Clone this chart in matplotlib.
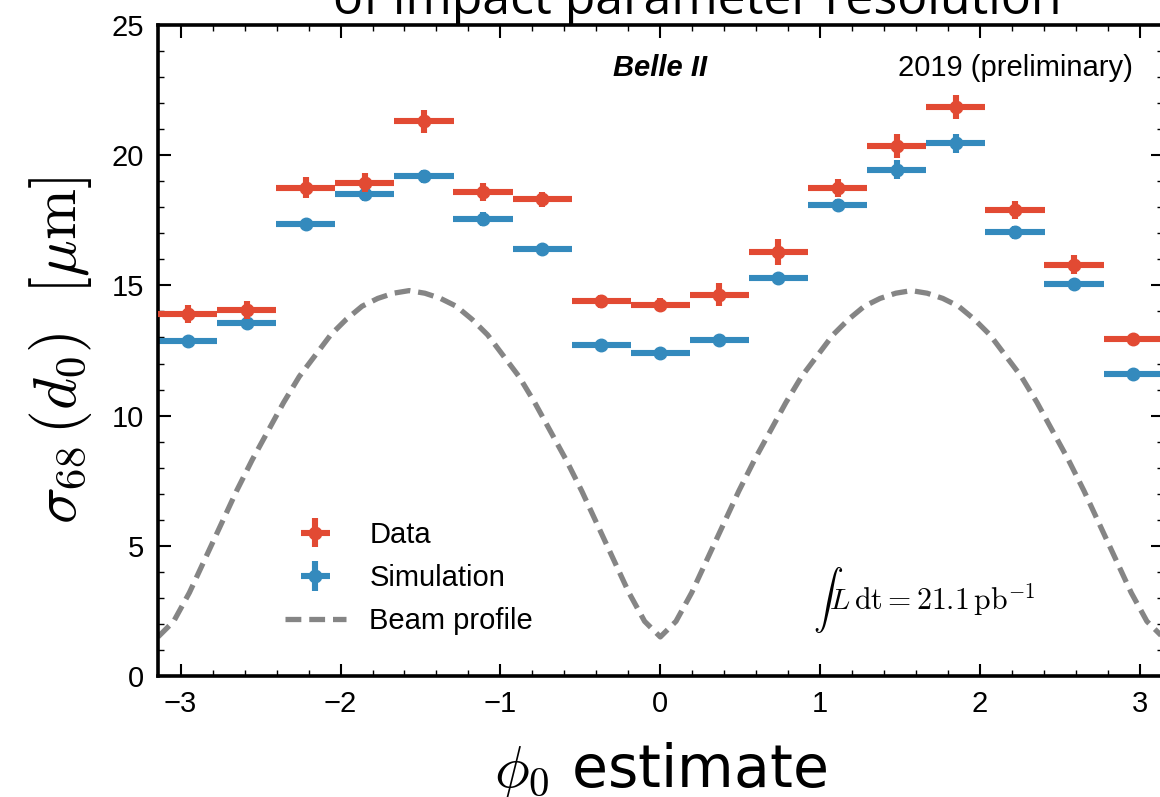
import numpy as np
import matplotlib.pyplot as plt
from matplotlib.ticker import MultipleLocator

plt.rcParams["font.family"] = ["Liberation Sans", "DejaVu Sans"]
plt.rcParams["mathtext.fontset"] = "cm"

# bin centres of phi0 (17 bins over [-pi, pi])
phi_centres = [-2.957, -2.587, -2.218, -1.848, -1.478, -1.109, -0.739, -0.370, 0.0,
               0.370, 0.739, 1.109, 1.478, 1.848, 2.218, 2.587, 2.957]
bin_half_width = 0.185

data_vals = [13.9, 14.05, 18.75, 18.95, 21.3, 18.6, 18.3, 14.4, 14.25,
             14.65, 16.3, 18.75, 20.35, 21.85, 17.9, 15.8, 12.95]
data_errs = [0.35, 0.35, 0.4, 0.35, 0.45, 0.35, 0.3, 0.25, 0.25,
             0.45, 0.5, 0.35, 0.45, 0.45, 0.35, 0.35, 0.2]

sim_vals = [12.85, 13.55, 17.35, 18.5, 19.2, 17.55, 16.4, 12.7, 12.4,
            12.9, 15.3, 18.1, 19.45, 20.45, 17.05, 15.05, 11.6]
sim_errs = [0.15, 0.15, 0.2, 0.25, 0.25, 0.25, 0.15, 0.15, 0.15,
            0.15, 0.15, 0.2, 0.35, 0.35, 0.25, 0.2, 0.15]

# beam profile, at steps of pi/32
beam_phi = np.linspace(-np.pi, np.pi, 65)
beam_vals = [1.5, 2.1, 3.2, 4.5, 5.8, 7.1, 8.3, 9.4, 10.5, 11.5, 12.3, 13.1, 13.7, 14.2, 14.5, 14.7,
             14.8, 14.7, 14.5, 14.2, 13.7, 13.1, 12.3, 11.5, 10.5, 9.4, 8.3, 7.1, 5.8, 4.5, 3.2, 2.1,
             1.5, 2.1, 3.2, 4.5, 5.8, 7.1, 8.3, 9.4, 10.5, 11.5, 12.3, 13.1, 13.7, 14.2, 14.5, 14.7,
             14.8, 14.7, 14.5, 14.2, 13.7, 13.1, 12.3, 11.5, 10.5, 9.4, 8.3, 7.1, 5.8, 4.5, 3.2, 2.1,
             1.5]

RED = "#E24A33"
BLUE = "#348ABD"
GREY = "#858585"

fig = plt.figure(figsize=(11.6, 7.97), dpi=100)
ax = fig.add_axes([158 / 1160, 121 / 797, 1004.6 / 1160, 651 / 797])

ax.plot(beam_phi, beam_vals, ls="--", color=GREY, lw=3.8, dashes=(3.0, 1.5),
        label="Beam profile", zorder=1)

ax.errorbar(phi_centres, data_vals, yerr=data_errs, xerr=bin_half_width,
            fmt="o", color=RED, ms=9, elinewidth=4.4, capsize=0,
            label="Data", zorder=3)
ax.errorbar(phi_centres, sim_vals, yerr=sim_errs, xerr=bin_half_width,
            fmt="o", color=BLUE, ms=9, elinewidth=4.4, capsize=0,
            label="Simulation", zorder=2)

ax.set_xlim(-np.pi, np.pi)
ax.set_ylim(0, 25)
ax.xaxis.set_major_locator(MultipleLocator(1))
ax.xaxis.set_minor_locator(MultipleLocator(0.2))
ax.yaxis.set_major_locator(MultipleLocator(5))
ax.yaxis.set_minor_locator(MultipleLocator(1))
ax.tick_params(which="both", direction="in", top=True, right=True, labelsize=21)
ax.tick_params(which="major", length=9, width=1.5, pad=10)
ax.tick_params(which="minor", length=4.5, width=1.0)
for sp in ax.spines.values():
    sp.set_linewidth(2.6)

ax.set_ylabel(r"$\sigma_{68}\,(d_0)\ \ [\mu\mathrm{m}]$", fontsize=44, labelpad=13)
ax.set_xlabel(r"$\phi_0$ estimate", fontsize=42, family=["DejaVu Sans"], labelpad=16)

ax.text(0.5, 0.934, "Belle II", transform=ax.transAxes, fontsize=21,
        fontweight="bold", fontstyle="italic", ha="center", va="center")
ax.text(0.9705, 0.934, "2019 (preliminary)", transform=ax.transAxes, fontsize=21,
        ha="right", va="center")
ax.text(0.652, 0.117, r"$\int L\,\mathrm{dt} = 21.1\,\mathrm{pb}^{-1}$",
        transform=ax.transAxes, fontsize=21.5, ha="left", va="center")

handles, labels = ax.get_legend_handles_labels()
order = [labels.index(l) for l in ["Data", "Simulation", "Beam profile"]]
ax.legend([handles[i] for i in order], [labels[i] for i in order],
          loc="lower left", bbox_to_anchor=(0.1, 0.022), frameon=False,
          fontsize=21, handlelength=2.1, labelspacing=0.52)

fig.text(697 / 1160, 1 - 14 / 797, "of impact parameter resolution",
         fontsize=36, family=["Open Sans", "DejaVu Sans"], ha="center", va="baseline")

fig.savefig("out.png", dpi=100)
